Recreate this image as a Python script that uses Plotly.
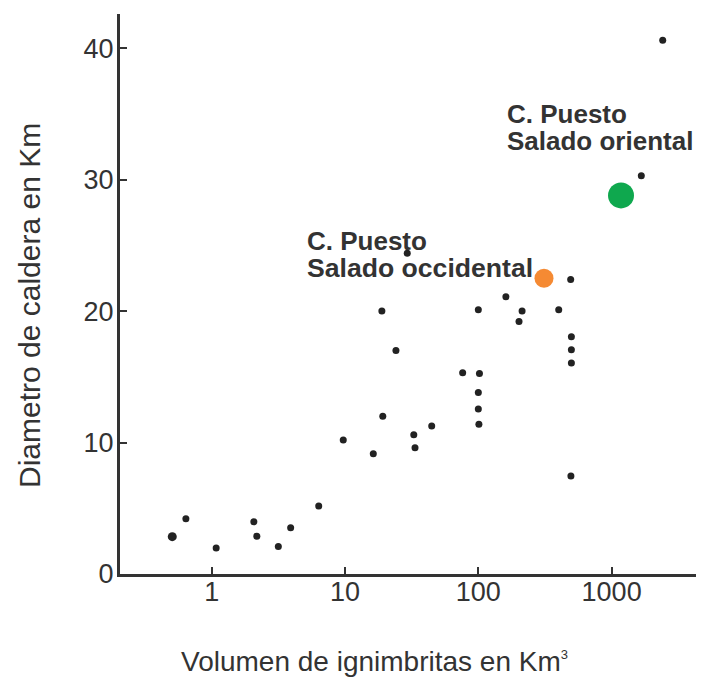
import plotly.graph_objects as go

# Black data points: volume (km3) and caldera diameter (km)
vol = [0.64, 1.08, 2.07, 2.18, 3.16, 3.91, 6.35, 9.7, 16.3, 18.9, 19.2, 24.1,
       29.3, 32.8, 33.5, 44.7, 76.3, 102, 100, 100, 101, 100, 161, 202, 213,
       401, 493, 499, 499, 499, 495, 1670, 2417]
diam = [4.2, 1.98, 3.98, 2.87, 2.1, 3.52, 5.17, 10.2, 9.15, 20.0, 12.0, 17.0,
        24.4, 10.6, 9.6, 11.25, 15.3, 15.25, 13.8, 12.55, 11.4, 20.1, 21.1, 19.2, 20.0,
        20.1, 22.4, 18.05, 17.05, 16.05, 7.45, 30.3, 40.6]
# slightly larger first point
vol_big = [0.506]
diam_big = [2.84]

occ_vol = [311]
occ_diam = [22.5]
ori_vol = [1176]
ori_diam = [28.8]

x_ticks = [1, 10, 100, 1000]
x_ticklabels = ["1", "10", "100", "1000"]
y_ticks = [0, 10, 20, 30, 40]

x_title = "Volumen de ignimbritas en Km<sup><span style='font-size:13px'>3</span></sup>"
y_title = "Diametro de caldera en Km"

ink = "#333333"
font_main = "Liberation Sans, Arial, sans-serif"

fig = go.Figure()
fig.add_trace(go.Scatter(x=vol, y=diam, mode="markers",
                         marker=dict(size=7, color="#222222"), showlegend=False))
fig.add_trace(go.Scatter(x=vol_big, y=diam_big, mode="markers",
                         marker=dict(size=9, color="#222222"), showlegend=False))
fig.add_trace(go.Scatter(x=occ_vol, y=occ_diam, mode="markers",
                         marker=dict(size=19, color="#f58a33"), showlegend=False))
fig.add_trace(go.Scatter(x=ori_vol, y=ori_diam, mode="markers",
                         marker=dict(size=26, color="#0fa84e"), showlegend=False))

# page offset (body margin) compensation
OFF = 8
L, T, W, H = 120 - OFF, 14 - OFF, 584, 560
FW, FH = 704, 679


def px2paper(px, py):
    return (px - OFF - L) / W, (T + H - (py - OFF)) / H


lines = [
    ("<b>C. Puesto</b>", 306, 241, 26),
    ("<b>Salado occidental</b>", 306, 268, 26.6),
    ("<b>C. Puesto</b>", 506, 114, 26),
    ("<b>Salado oriental</b>", 506, 141, 26),
]
for txt, px, py, fs in lines:
    ax, ay = px2paper(px, py)
    fig.add_annotation(text=txt, xref="paper", yref="paper", x=ax, y=ay,
                       xanchor="left", yanchor="middle", showarrow=False,
                       font=dict(family=font_main, size=fs, color=ink), borderpad=0)

# axis titles
ax, ay = px2paper(374.5, 661)
fig.add_annotation(text=x_title, xref="paper", yref="paper", x=ax, y=ay,
                   xanchor="center", yanchor="middle", showarrow=False,
                   font=dict(family=font_main, size=28, color=ink))
ax, ay = px2paper(30, 306)
fig.add_annotation(text=y_title, xref="paper", yref="paper", x=ax, y=ay,
                   xanchor="center", yanchor="middle", showarrow=False, textangle=-90,
                   font=dict(family=font_main, size=30, color=ink))

fig.update_xaxes(type="log", range=[-0.688, 3.693],
                 tickvals=x_ticks, ticktext=x_ticklabels,
                 showgrid=False, zeroline=False,
                 showline=True, linecolor=ink, linewidth=3,
                 ticks="inside", ticklen=7, tickwidth=2, tickcolor=ink,
                 ticklabelstandoff=-8,
                 tickfont=dict(family=font_main, size=27, color=ink))
fig.update_yaxes(range=[0, 42.6], tickvals=y_ticks,
                 showgrid=False, zeroline=False,
                 showline=True, linecolor=ink, linewidth=3,
                 ticks="inside", ticklen=7, tickwidth=2, tickcolor=ink,
                 ticklabelstandoff=-2,
                 tickfont=dict(family=font_main, size=27, color=ink))
fig.update_layout(width=FW, height=FH,
                  margin=dict(l=L, r=FW - L - W, t=T, b=FH - T - H, autoexpand=False),
                  paper_bgcolor="white", plot_bgcolor="white")
fig.write_html("out.html")
